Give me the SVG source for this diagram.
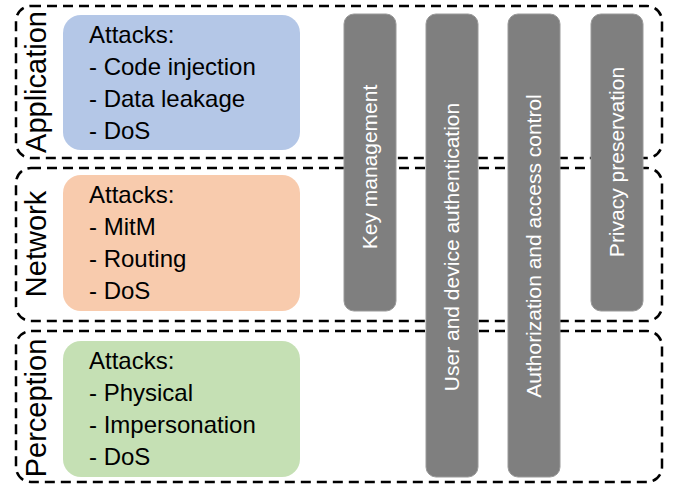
<svg xmlns="http://www.w3.org/2000/svg" width="678" height="487" viewBox="0 0 678 487">
<style>
.layer{fill:none;stroke:#000;stroke-width:2.5;stroke-dasharray:10 6}
.ltxt{font-family:"Liberation Sans",Arial,sans-serif;font-size:29px;fill:#000;text-anchor:middle}
.atk{font-family:"Liberation Sans",Arial,sans-serif;font-size:24px;fill:#000}
.bar{fill:#7f7f7f;stroke:#9a9a9a;stroke-width:1}
.btxt{font-family:"Liberation Sans",Arial,sans-serif;font-size:21px;fill:#fff;text-anchor:middle}
</style>
<rect width="678" height="487" fill="#fff"/>
<g id="layer-application">
<rect class="layer" x="16" y="6" width="646" height="152" rx="15"/>
<text class="ltxt" transform="translate(46,82) rotate(-90)">Application</text>
</g>
<g id="layer-network">
<rect class="layer" x="16" y="168" width="646" height="153" rx="15"/>
<text class="ltxt" transform="translate(46,244) rotate(-90)">Network</text>
</g>
<g id="layer-perception">
<rect class="layer" x="16" y="331" width="646" height="151" rx="15"/>
<text class="ltxt" transform="translate(46,408) rotate(-90)">Perception</text>
</g>
<g id="attacks-application">
<rect x="63" y="15" width="237" height="135" rx="18" fill="#b4c7e7"/>
<text class="atk" x="89" y="43">Attacks:</text>
<text class="atk" x="89" y="75">- Code injection</text>
<text class="atk" x="89" y="107">- Data leakage</text>
<text class="atk" x="89" y="139">- DoS</text>
</g>
<g id="attacks-network">
<rect x="63" y="175" width="237" height="136" rx="18" fill="#f8cbad"/>
<text class="atk" x="89" y="203">Attacks:</text>
<text class="atk" x="89" y="235">- MitM</text>
<text class="atk" x="89" y="267">- Routing</text>
<text class="atk" x="89" y="299">- DoS</text>
</g>
<g id="attacks-perception">
<rect x="63" y="341" width="237" height="136" rx="18" fill="#c5e0b4"/>
<text class="atk" x="89" y="369">Attacks:</text>
<text class="atk" x="89" y="401">- Physical</text>
<text class="atk" x="89" y="433">- Impersonation</text>
<text class="atk" x="89" y="465">- DoS</text>
</g>
<g id="key-management">
<rect class="bar" x="344" y="14" width="52" height="297" rx="10"/>
<text class="btxt" transform="translate(377,167) rotate(-90)">Key management</text>
</g>
<g id="user-device-auth">
<rect class="bar" x="426" y="14" width="52" height="463" rx="10"/>
<text class="btxt" transform="translate(459,247) rotate(-90)">User and device authentication</text>
</g>
<g id="authorization">
<rect class="bar" x="508" y="14" width="52" height="463" rx="10"/>
<text class="btxt" transform="translate(541,246) rotate(-90)">Authorization and access control</text>
</g>
<g id="privacy">
<rect class="bar" x="591" y="14" width="52" height="297" rx="10"/>
<text class="btxt" transform="translate(624,162) rotate(-90)">Privacy preservation</text>
</g>
</svg>
